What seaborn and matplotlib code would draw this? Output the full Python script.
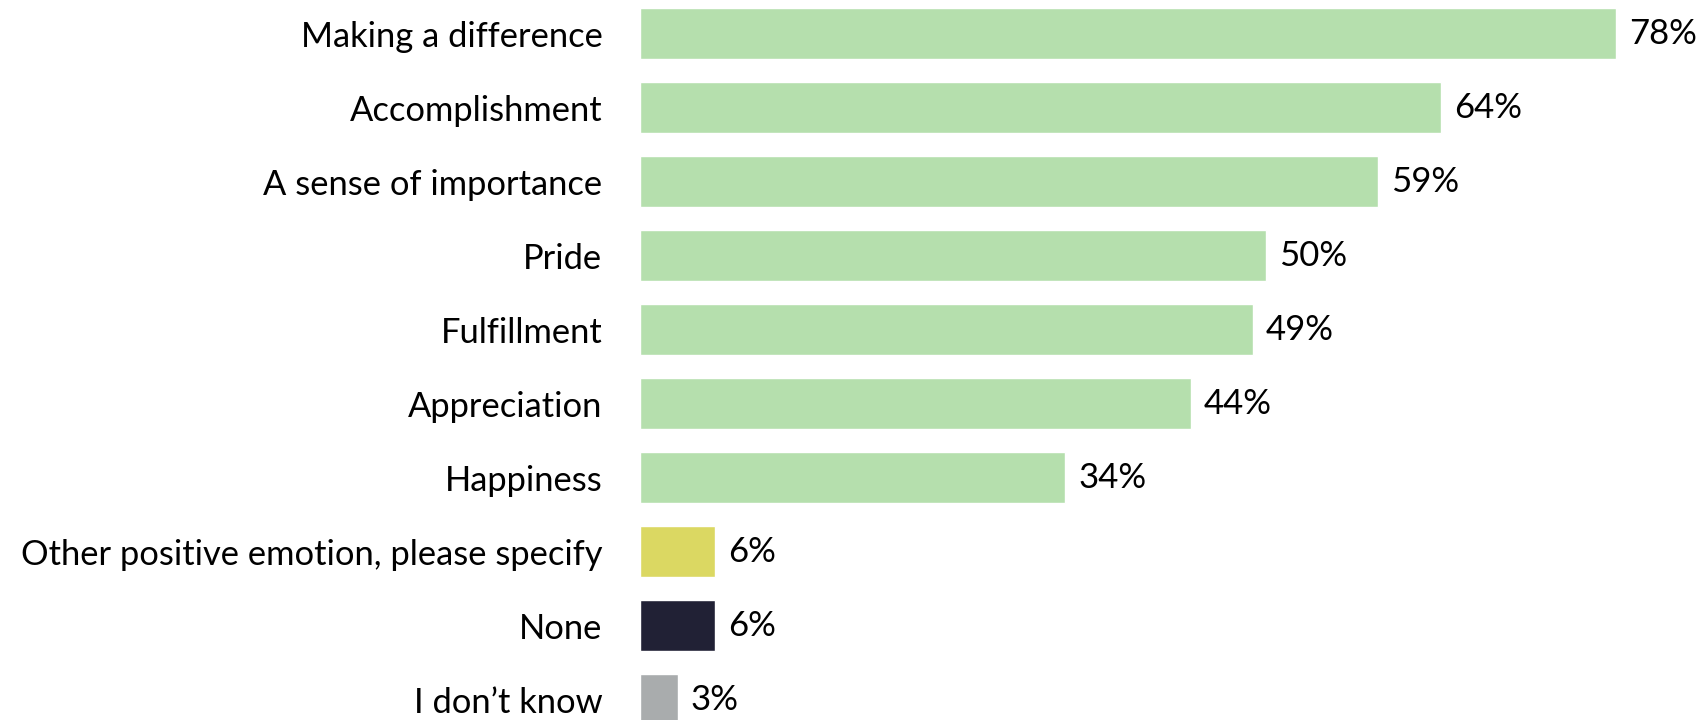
import matplotlib
matplotlib.use("Agg")
import matplotlib.pyplot as plt
import seaborn as sns
import pandas as pd

categories = [
    "Making a difference",
    "Accomplishment",
    "A sense of importance",
    "Pride",
    "Fulfillment",
    "Appreciation",
    "Happiness",
    "Other positive emotion, please specify",
    "None",
    "I don\u2019t know",
]
values = [78, 64, 59, 50, 49, 44, 34, 6, 6, 3]
bar_colors = ["#b5dfad"] * 7 + ["#dbd862", "#212135", "#a9acad"]

df = pd.DataFrame({"category": categories, "value": values})

sns.set_theme(style="white")
plt.rcParams["font.family"] = ["Lato", "DejaVu Sans"]

fig = plt.figure(figsize=(17.06, 7.2), dpi=100)
W, H = 1706, 720
ax = fig.add_axes([640 / W, 0, (1616 - 640) / W, 1])

sns.barplot(data=df, x="value", y="category", hue="category",
            palette=bar_colors, legend=False, width=0.69,
            saturation=1, ax=ax)

ax.set_xlim(0, 78)
ax.set_ylim(9 + 20.5 / 74, -33.5 / 74)

for i, v in enumerate(values):
    ax.text(v + 13 / 12.51, i, f"{v}%", va="center", ha="left",
            fontsize=25, color="black", clip_on=False)

ax.set_xlabel("")
ax.set_ylabel("")
ax.set_xticks([])
ax.tick_params(axis="y", length=0, pad=27, labelsize=24.8, labelcolor="black")
for s in ax.spines.values():
    s.set_visible(False)

fig.savefig("out.png", dpi=100)
